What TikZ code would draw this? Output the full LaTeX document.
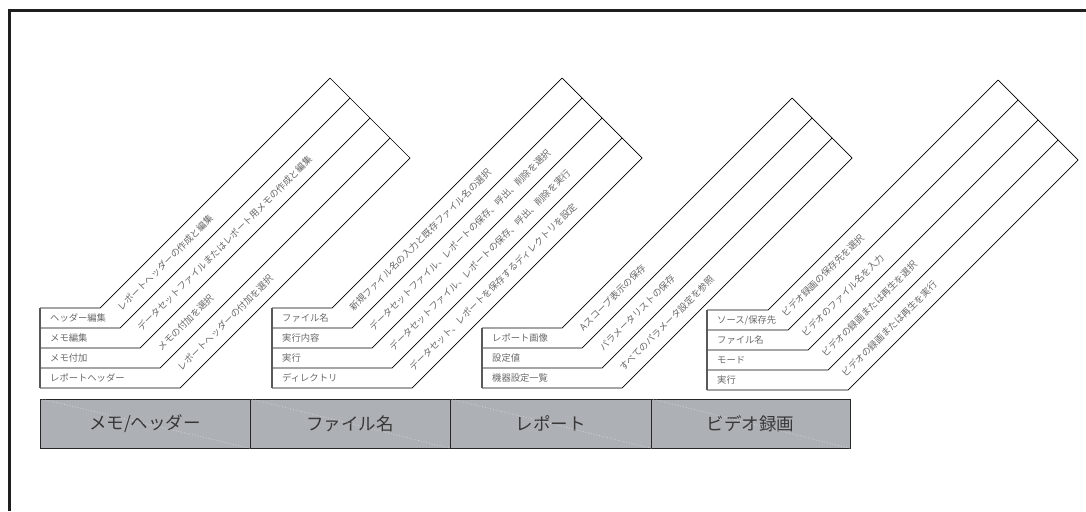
\documentclass[tikz,border=0pt]{standalone}
\usepackage{fontspec}
\setmainfont{Noto Sans CJK JP}
\definecolor{barfill}{RGB}{173,176,181}
\definecolor{smalltext}{RGB}{105,105,105}
\definecolor{bartext}{RGB}{55,55,55}
\begin{document}
\begin{tikzpicture}[x=1pt,y=-1pt,
  frame/.style={line width=3pt, draw=black!88},
  rule/.style={line width=0.7pt, draw=black},
  edge/.style={line width=1.4pt, draw=black!65},
  rowtxt/.style={font=\fontsize{9.3}{9.3}\selectfont, text=smalltext, anchor=west, inner sep=0pt},
  diagtxt/.style={rowtxt, rotate=45},
  barcell/.style={draw=black!85, line width=0.9pt, fill=barfill, minimum height=49pt, inner sep=0pt,
    font=\fontsize{17.5}{17.5}\selectfont, text=bartext},
  faint/.style={draw=white, dotted, line width=0.8pt, opacity=0.45}
]
\useasboundingbox (0,0) rectangle (1086,511);
\draw[frame] (9.7,511) -- (9.7,11) -- (1086,11);

% ribbons: left / top / bend x / rows
\foreach \L/\T/\X/\n in {40/308/100/4, 272/308/332/4, 482/328/562/3, 707/310/768/4}{
  \foreach \i in {0,...,\n}{
    \draw[rule] (\L,\T+20*\i) -- (\X+20*\i,\T+20*\i) -- ++(230,-230);
  }
  \draw[rule] (\X+230,\T-230) -- ++(20*\n,20*\n);
  \draw[edge] (\L,\T) -- (\L,\T+20*\n);
}

% group 1
\node[rowtxt] (g1r1) at (50,318) {ヘッダー編集};
\node[rowtxt] (g1r2) at (50,338) {メモ編集};
\node[rowtxt] (g1r3) at (50,358) {メモ付加};
\node[rowtxt] (g1r4) at (50,378) {レポートヘッダー};
\node[diagtxt] (g1d1) at (119,309) {レポートヘッダーの作成と編集};
\node[diagtxt] (g1d2) at (139,329) {データセットファイルまたはレポート用メモの作成と編集};
\node[diagtxt] (g1d3) at (159,349) {メモの付加を選択};
\node[diagtxt] (g1d4) at (179,369) {レポートヘッダーの付加を選択};

% group 2
\node[rowtxt] (g2r1) at (282,318) {ファイル名};
\node[rowtxt] (g2r2) at (282,338) {実行内容};
\node[rowtxt] (g2r3) at (282,358) {実行};
\node[rowtxt] (g2r4) at (282,378) {ディレクトリ};
\node[diagtxt] (g2d1) at (351,309) {新規ファイル名の入力と既存ファイル名の選択};
\node[diagtxt] (g2d2) at (371,329) {データセットファイル、レポートの保存、呼出、削除を選択};
\node[diagtxt] (g2d3) at (391,349) {データセットファイル、レポートの保存、呼出、削除を実行};
\node[diagtxt] (g2d4) at (411,369) {データセット、レポートを保存するディレクトリを設定};

% group 3
\node[rowtxt] (g3r1) at (492,338) {レポート画像};
\node[rowtxt] (g3r2) at (492,358) {設定値};
\node[rowtxt] (g3r3) at (492,378) {機器設定一覧};
\node[diagtxt] (g3d1) at (581,329) {Aスコープ表示の保存};
\node[diagtxt] (g3d2) at (601,349) {パラメータリストの保存};
\node[diagtxt] (g3d3) at (621,369) {すべてのパラメータ設定を参照};

% group 4
\node[rowtxt] (g4r1) at (717,320) {ソース/保存先};
\node[rowtxt] (g4r2) at (717,340) {ファイル名};
\node[rowtxt] (g4r3) at (717,360) {モード};
\node[rowtxt] (g4r4) at (717,380) {実行};
\node[diagtxt] (g4d1) at (783,315) {ビデオ録画の保存先を選択};
\node[diagtxt] (g4d2) at (803,335) {ビデオのファイル名を入力};
\node[diagtxt] (g4d3) at (823,355) {ビデオの録画または再生を選択};
\node[diagtxt] (g4d4) at (843,375) {ビデオの録画または再生を実行};

% bottom bar
\node[barcell, minimum width=210pt] (b1) at (145,423.5) {メモ/ヘッダー};
\node[barcell, minimum width=200pt] (b2) at (350,423.5) {ファイル名};
\node[barcell, minimum width=201pt] (b3) at (550.5,423.5) {レポート};
\node[barcell, minimum width=199pt] (b4) at (750.5,423.5) {ビデオ録画};
\foreach \b in {b1,b2,b3,b4}{
  \draw[faint] (\b.north west) -- (\b.south east);
}
\end{tikzpicture}
\end{document}
